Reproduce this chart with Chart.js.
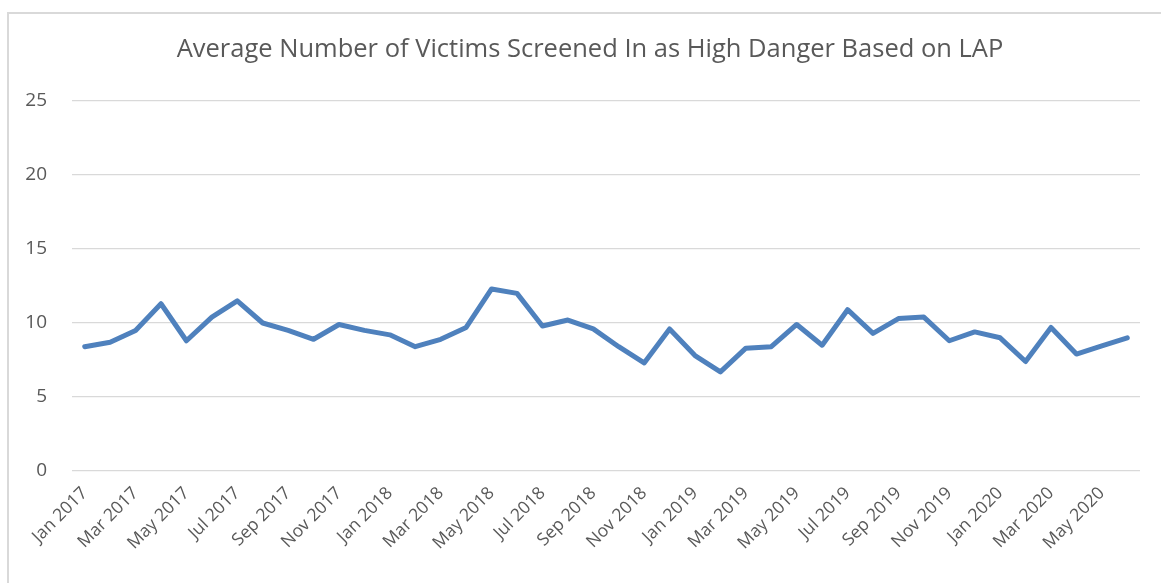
<!DOCTYPE html>
<html>
<head>
<meta charset="utf-8">
<script src="https://cdn.jsdelivr.net/npm/chart.js@4.4.0/dist/chart.umd.min.js"></script>
<style>
  html, body { margin: 0; padding: 0; background: #fff; }
  #wrap { position: relative; width: 1161px; height: 583px; overflow: hidden; }
  #frame {
    position: absolute; left: 7px; top: 12px; width: 1200px; height: 600px;
    border-left: 2px solid #d9d9d9; border-top: 2px solid #d9d9d9;
    pointer-events: none;
  }
  canvas { position: absolute; left: 0; top: 0; }
</style>
</head>
<body>
<div id="wrap">
  <div id="frame"></div>
  <canvas id="chart" width="1161" height="583"></canvas>
</div>
<script>
// месяцы Jan 2017 - Jun 2020
const months = [
  'Jan 2017', 'Feb 2017', 'Mar 2017', 'Apr 2017', 'May 2017', 'Jun 2017',
  'Jul 2017', 'Aug 2017', 'Sep 2017', 'Oct 2017', 'Nov 2017', 'Dec 2017',
  'Jan 2018', 'Feb 2018', 'Mar 2018', 'Apr 2018', 'May 2018', 'Jun 2018',
  'Jul 2018', 'Aug 2018', 'Sep 2018', 'Oct 2018', 'Nov 2018', 'Dec 2018',
  'Jan 2019', 'Feb 2019', 'Mar 2019', 'Apr 2019', 'May 2019', 'Jun 2019',
  'Jul 2019', 'Aug 2019', 'Sep 2019', 'Oct 2019', 'Nov 2019', 'Dec 2019',
  'Jan 2020', 'Feb 2020', 'Mar 2020', 'Apr 2020', 'May 2020', 'Jun 2020'
];

const avgVictims = [
  8.4, 8.7, 9.5, 11.3, 8.8, 10.4, 11.5, 10.0, 9.5, 8.9, 9.9, 9.5,
  9.2, 8.4, 8.9, 9.7, 12.3, 12.0, 9.8, 10.2, 9.6, 8.4, 7.3, 9.6,
  7.8, 6.7, 8.3, 8.4, 9.9, 8.5, 10.9, 9.3, 10.3, 10.4, 8.8, 9.4,
  9.0, 7.4, 9.7, 7.9, 8.45, 9.0
];

const yTicks = [0, 5, 10, 15, 20, 25];

const chartTitle = 'Average Number of Victims Screened In as High Danger Based on LAP';

const textColor = '#595959';
const gridColor = '#d9d9d9';
const fontFamily = "'Open Sans', 'Noto Sans', sans-serif";

// заголовок рисуем сами, чтобы поставить его как в Excel
const titlePlugin = {
  id: 'excelTitle',
  afterDraw(chart) {
    const c = chart.ctx;
    c.save();
    c.font = `25.5px ${fontFamily}`;
    c.fillStyle = textColor;
    c.textAlign = 'center';
    c.textBaseline = 'middle';
    c.fillText(chartTitle, 590, 50);
    c.restore();
  }
};

const ctx = document.getElementById('chart').getContext('2d');

new Chart(ctx, {
  type: 'line',
  data: {
    labels: months,
    datasets: [{
      label: 'Average',
      data: avgVictims,
      borderColor: '#4f81bd',
      backgroundColor: '#4f81bd',
      borderWidth: 5,
      borderJoinStyle: 'round',
      borderCapStyle: 'round',
      pointRadius: 0,
      tension: 0
    }]
  },
  plugins: [titlePlugin],
  options: {
    responsive: false,
    animation: false,
    layout: {
      padding: { left: 0, right: 21, top: 101, bottom: 0 }
    },
    plugins: {
      legend: { display: false },
      tooltip: { enabled: false },
      title: { display: false }
    },
    scales: {
      x: {
        offset: true,
        grid: { display: false, drawTicks: false },
        border: { display: false },
        afterFit(scale) { scale.height = 112; },
        ticks: {
          autoSkip: false,
          maxRotation: 45,
          minRotation: 45,
          padding: 12,
          color: textColor,
          font: { family: fontFamily, size: 17.5 },
          // подписи через месяц
          callback(value, index) {
            return index % 2 === 0 ? months[index] : '';
          }
        }
      },
      y: {
        min: 0,
        max: 25,
        afterFit(scale) { scale.width = 72; },
        afterBuildTicks(scale) {
          scale.ticks = yTicks.map(v => ({ value: v }));
        },
        grid: { color: gridColor, lineWidth: 1.3, drawTicks: false },
        border: { display: false },
        ticks: {
          padding: 25,
          color: textColor,
          font: { family: fontFamily, size: 19 }
        }
      }
    }
  }
});
</script>
</body>
</html>
